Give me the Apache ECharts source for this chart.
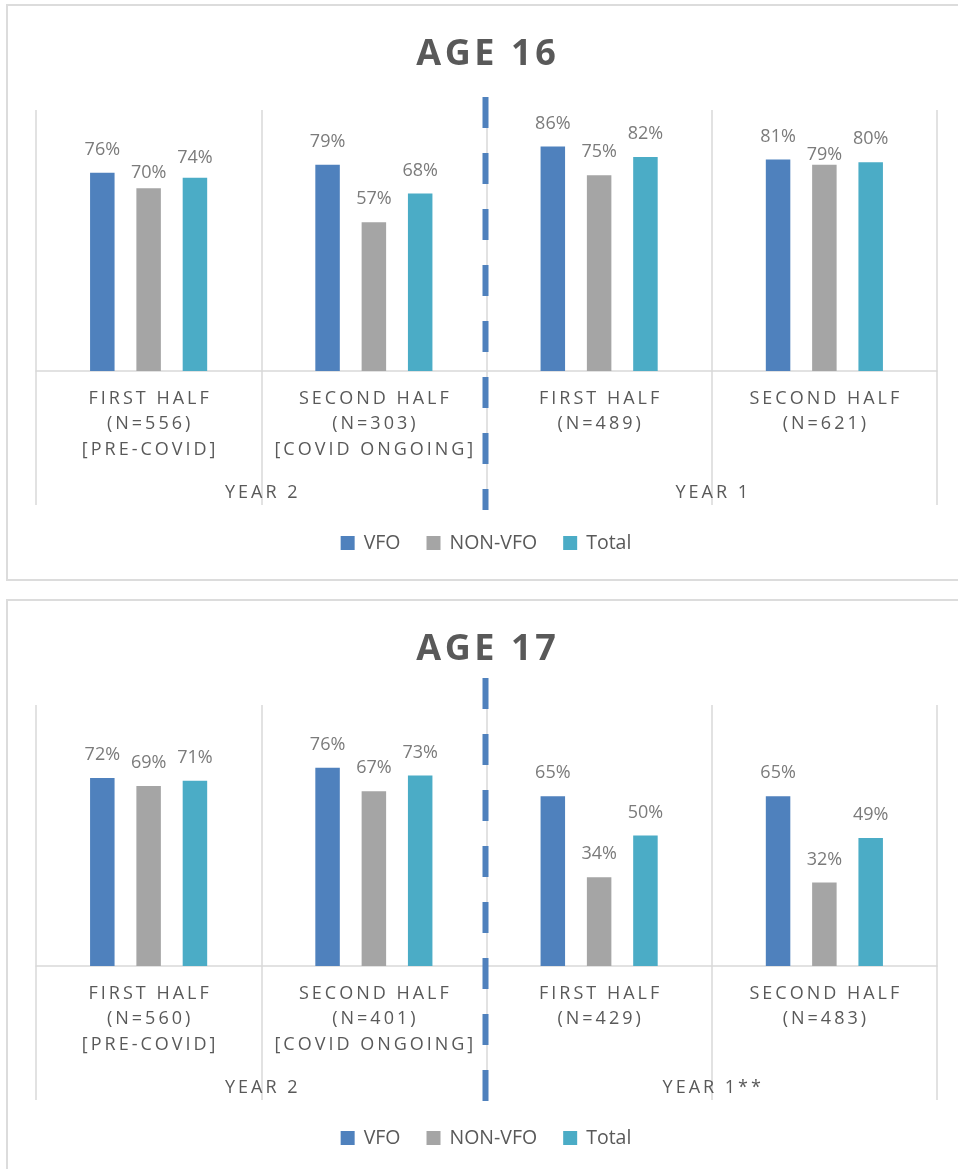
<!DOCTYPE html>
<html>
<head>
<meta charset="utf-8">
<script src="https://cdn.jsdelivr.net/npm/echarts@6/dist/echarts.min.js"></script>
<style>
  html, body { margin: 0; padding: 0; background: #fff; overflow: hidden; width: 958px; height: 1169px; }
  .frame { position: absolute; left: 6px; width: 1000px; border: 2px solid #dcdcdc; box-sizing: border-box; }
  .chart { position: absolute; left: 0; width: 972px; height: 590px; }
</style>
</head>
<body>
<div class="frame" style="top:4px;height:577px"></div>
<div class="frame" style="top:599px;height:620px"></div>
<div id="age16" class="chart" style="top:0"></div>
<div id="age17" class="chart" style="top:595px"></div>
<script>
// Outcome rates (%) by half-year period, split by VFO status
const seriesNames = ['VFO', 'NON-VFO', 'Total'];

const age16Periods = ['FIRST HALF\n(N=556)\n[PRE-COVID]', 'SECOND HALF\n(N=303)\n[COVID ONGOING]', 'FIRST HALF\n(N=489)', 'SECOND HALF\n(N=621)'];
const age16Years = ['YEAR 2', 'YEAR 1'];
const age16VFO = [76, 79, 86, 81];
const age16NonVFO = [70, 57, 75, 79];
const age16Total = [74, 68, 82, 80];

const age17Periods = ['FIRST HALF\n(N=560)\n[PRE-COVID]', 'SECOND HALF\n(N=401)\n[COVID ONGOING]', 'FIRST HALF\n(N=429)', 'SECOND HALF\n(N=483)'];
const age17Years = ['YEAR 2', 'YEAR 1**'];
const age17VFO = [72, 76, 65, 65];
const age17NonVFO = [69, 67, 34, 32];
const age17Total = [71, 73, 50, 49];

const COLORS = ['#4f81bd', '#a5a5a5', '#4bacc6'];
const FONT = 'Open Sans';
const GRID_LINE = '#d9d9d9';

// widen the tracking of axis captions with thin spaces between letters
function spaced(s, sep) {
  return s.split('\n').map(l => l.split('').join(sep)).join('\n');
}

function barSeries(name, values, color, nudges) {
  return {
    type: 'bar',
    name: name,
    data: values.map((v, i) => {
      const d = { value: v };
      if (nudges && nudges[i]) d.label = { offset: [0, nudges[i]] };
      return d;
    }),
    itemStyle: { color: color },
    barWidth: 24.5,
    barGap: '89%',
    label: {
      show: true,
      position: 'top',
      distance: 14,
      formatter: p => p.value + '%',
      color: '#7b7b7b',
      fontSize: 18,
      fontFamily: FONT
    }
  };
}

function buildOption(title, periods, years, vfo, nonVfo, total, nudges) {
  nudges = nudges || {};
  return {
    animation: false,
    title: {
      text: spaced(title, '\u200a'),
      left: 'center',
      top: 32,
      textStyle: { fontFamily: FONT, fontWeight: 'bold', fontSize: 36, color: '#595959' }
    },
    legend: {
      data: seriesNames,
      top: 528,
      left: 'center',
      icon: 'rect',
      itemWidth: 14,
      itemHeight: 14,
      itemGap: 26,
      textStyle: { fontFamily: FONT, fontSize: 19.5, color: '#595959', padding: [0, 0, 0, 4] }
    },
    grid: { left: 36, right: 35, top: 110, bottom: 219, containLabel: false },
    xAxis: [
      {
        type: 'category',
        data: periods,
        position: 'bottom',
        axisLine: { show: true, lineStyle: { color: GRID_LINE, width: 1.5 } },
        axisTick: { show: true, length: 134, lineStyle: { color: GRID_LINE, width: 1.5 } },
        splitLine: { show: true, lineStyle: { color: GRID_LINE, width: 1.5 } },
        axisLabel: {
          interval: 0,
          formatter: v => spaced(v, '\u2009'),
          color: '#595959',
          fontFamily: FONT,
          fontSize: 18,
          lineHeight: 25.5,
          margin: 15
        }
      },
      {
        type: 'category',
        data: years,
        position: 'bottom',
        axisLine: { show: false },
        axisTick: { show: false },
        splitLine: { show: false },
        axisLabel: {
          interval: 0,
          formatter: v => spaced(v, '\u2009'),
          color: '#595959',
          fontFamily: FONT,
          fontSize: 18,
          lineHeight: 25,
          margin: 109
        }
      }
    ],
    yAxis: { type: 'value', min: 0, max: 100, show: false, splitLine: { show: false } },
    series: [
      barSeries(seriesNames[0], vfo, COLORS[0], nudges.vfo),
      barSeries(seriesNames[1], nonVfo, COLORS[1], nudges.nonVfo),
      barSeries(seriesNames[2], total, COLORS[2], nudges.total)
    ]
  };
}

// vertical dashed divider between the YEAR 2 and YEAR 1 blocks
function addDivider(chart, aboveTop, belowBase) {
  const xLeft = chart.convertToPixel({ xAxisIndex: 0 }, 1);
  const xRight = chart.convertToPixel({ xAxisIndex: 0 }, 2);
  const x = (xLeft + xRight) / 2;
  const yTop = chart.convertToPixel({ yAxisIndex: 0 }, 100);
  const yBase = chart.convertToPixel({ yAxisIndex: 0 }, 0);
  chart.setOption({
    graphic: [{
      type: 'line',
      z: 100,
      shape: { x1: x - 1, y1: yTop - aboveTop, x2: x - 1, y2: yBase + belowBase },
      style: { stroke: COLORS[0], lineWidth: 6, lineDash: [31, 25] }
    }]
  });
}

const chart16 = echarts.init(document.getElementById('age16'), null, { renderer: 'canvas' });
chart16.setOption(buildOption('AGE 16', age16Periods, age16Years, age16VFO, age16NonVFO, age16Total,
  { nonVfo: [8, 0, 0, 13], total: [3, 0, 0, 0] }));
addDivider(chart16, 13, 139);

const chart17 = echarts.init(document.getElementById('age17'), null, { renderer: 'canvas' });
chart17.setOption(buildOption('AGE 17', age17Periods, age17Years, age17VFO, age17NonVFO, age17Total));
addDivider(chart17, 27, 137);
</script>
</body>
</html>
